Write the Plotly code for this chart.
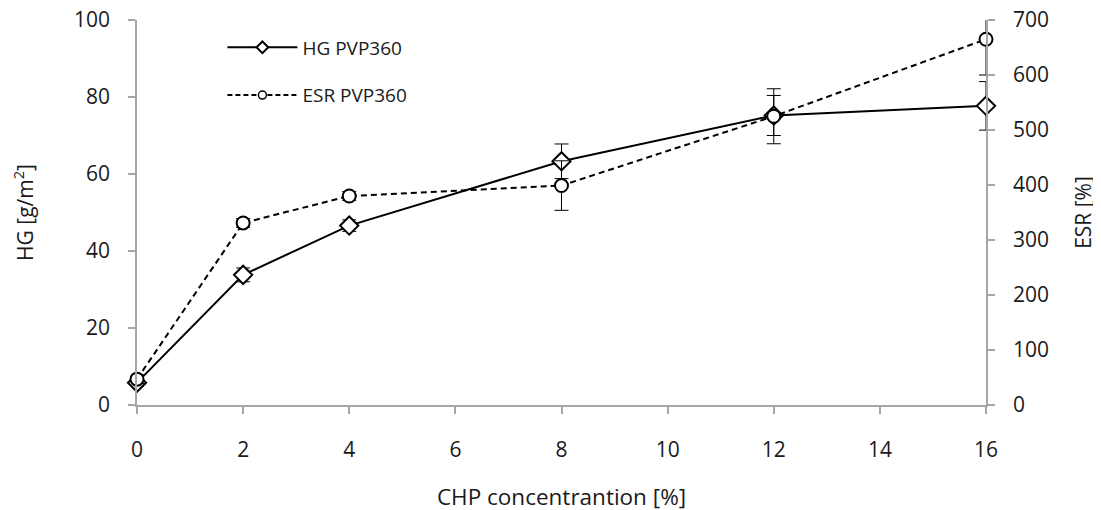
import plotly.graph_objects as go

conc = [0, 2, 4, 8, 12, 16]
hg = [5.8, 33.8, 46.6, 63.3, 75.2, 77.7]
hg_err = [1.0, 1.8, 1.5, 4.5, 5.2, 6.3]
esr = [47, 331, 380, 399, 525, 665]
esr_err = [8, 8, 8, 45, 50, 65]

x_ticks = [0, 2, 4, 6, 8, 10, 12, 14, 16]

font = "'Open Sans', sans-serif"
axcol = "#a6a6a6"
txt = "#1a1a1a"

fig = go.Figure()
fig.add_trace(go.Scatter(
    x=conc, y=hg, name="HG PVP360", mode="lines+markers", showlegend=False,
    line=dict(color="black", width=2),
    marker=dict(symbol="diamond", size=14, color="white", line=dict(color="black", width=2)),
    error_y=dict(type="data", array=hg_err, color="black", thickness=1, width=7),
    cliponaxis=False,
))
fig.add_trace(go.Scatter(
    x=conc, y=esr, name="ESR PVP360", mode="lines+markers", yaxis="y2", showlegend=False,
    line=dict(color="black", width=2, dash="6px,4px"),
    marker=dict(symbol="circle", size=13, color="white", line=dict(color="black", width=2)),
    error_y=dict(type="data", array=esr_err, color="black", thickness=1, width=7),
    cliponaxis=False,
))
# legend entries (smaller symbols, as in the reference)
fig.add_trace(go.Scatter(
    x=[None], y=[None], name="HG PVP360", mode="lines+markers", legendgroup="a",
    line=dict(color="black", width=2),
    marker=dict(symbol="diamond", size=9, color="white", line=dict(color="black", width=2)),
))
fig.add_trace(go.Scatter(
    x=[None], y=[None], name="ESR PVP360", mode="lines+markers", legendgroup="b", yaxis="y2",
    line=dict(color="black", width=2, dash="5px,3px"),
    marker=dict(symbol="circle", size=8, color="white", line=dict(color="black", width=1.5)),
))

fig.update_layout(
    width=1101, height=510,
    margin=dict(l=129, r=123, t=12, b=113, autoexpand=False),
    paper_bgcolor="white", plot_bgcolor="white",
    font=dict(family=font, size=20, color=txt),
    showlegend=True,
    legend=dict(x=0.1006, y=0.978, xanchor="left", yanchor="top", bgcolor="rgba(0,0,0,0)",
                font=dict(size=19), tracegroupgap=20, traceorder="grouped", itemwidth=70),
    xaxis=dict(range=[0, 16], tickvals=x_ticks, showgrid=False, zeroline=False,
               showline=True, linecolor=axcol, linewidth=1.5,
               ticks="outside", ticklen=7, tickcolor=axcol, tickwidth=1.5,
               ticklabelstandoff=18, tickfont=dict(size=21), ticklabeloverflow="allow",
               title=dict(text="CHP concentrantion [%]", font=dict(size=22.5), standoff=27)),
    yaxis=dict(range=[0, 100], dtick=20, showgrid=False, zeroline=False,
               showline=True, linecolor=axcol, linewidth=1.5,
               ticks="outside", ticklen=7, tickcolor=axcol, tickwidth=1.5,
               ticklabelstandoff=14, tickfont=dict(size=21), ticklabeloverflow="allow",
               title=dict(text="HG [g/m<sup>2</sup>]", font=dict(size=21), standoff=54)),
    yaxis2=dict(range=[0, 700], dtick=100, overlaying="y", side="right", showgrid=False,
                zeroline=False, showline=True, linecolor=axcol, linewidth=1.5,
                ticks="outside", ticklen=7, tickcolor=axcol, tickwidth=1.5,
                ticklabelstandoff=14, tickfont=dict(size=21), ticklabeloverflow="allow",
                title=dict(text="ESR [%]", font=dict(size=21), standoff=28)),
)

fig.write_html("out.html")
